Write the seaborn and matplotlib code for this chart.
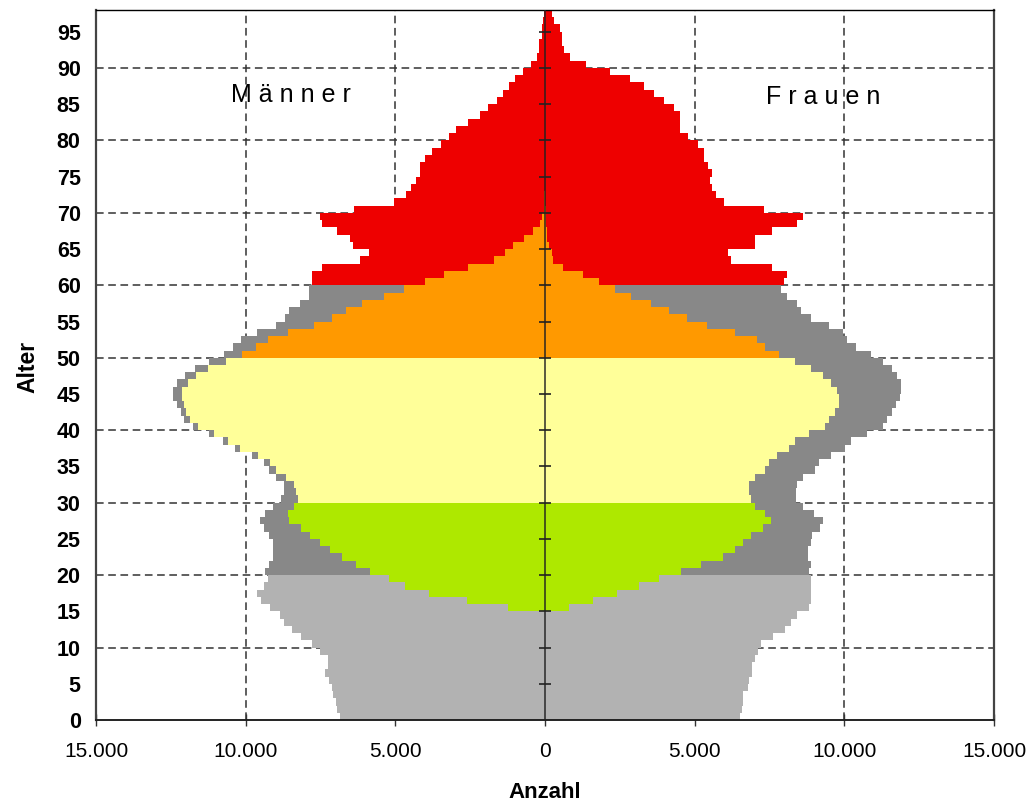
import pandas as pd
import matplotlib.pyplot as plt
import seaborn as sns
from matplotlib.ticker import FuncFormatter

# Altersjahre 0..97
alter = list(range(98))

# Bevölkerung insgesamt (Anzahl je Altersjahr)
maenner_gesamt = [6860, 6960, 6990, 7090, 7120, 7220, 7360, 7260, 7260, 7520,
                  7790, 8160, 8460, 8720, 8860, 9190, 9490, 9620, 9390, 9260,
                  9360, 9220, 9090, 9090, 9090, 9220, 9390, 9520, 9360, 9090,
                  8820, 8720, 8720, 8990, 9220, 9390, 9790, 10360, 10760, 11220,
                  11760, 12060, 12160, 12290, 12420, 12420, 12290, 12020, 11690, 11220,
                  10720, 10420, 10160, 9620, 8990, 8690, 8560, 8190, 7890, 7890,
                  7790, 7790, 7460, 6190, 5890, 6420, 6520, 6960, 7460, 7520,
                  6390, 5060, 4660, 4460, 4320, 4190, 4190, 4020, 3760, 3490,
                  3220, 2960, 2560, 2160, 1890, 1590, 1390, 1190, 990, 720,
                  460, 260, 190, 190, 110, 110, 60, 50]
frauen_gesamt = [6500, 6570, 6630, 6630, 6770, 6830, 6900, 6900, 7030, 7100,
                 7230, 7630, 8030, 8230, 8430, 8830, 8900, 8900, 8900, 8900,
                 8830, 8900, 8800, 8800, 8900, 8930, 9200, 9300, 8970, 8630,
                 8400, 8370, 8430, 8630, 9030, 9170, 9570, 10030, 10230, 10770,
                 11300, 11430, 11600, 11730, 11870, 11900, 11900, 11770, 11600, 11300,
                 10900, 10400, 10100, 9970, 9480, 8900, 8540, 8430, 8100, 7870,
                 8000, 8100, 7600, 6230, 6130, 7030, 7030, 7600, 8430, 8630,
                 7300, 5970, 5700, 5570, 5500, 5570, 5430, 5300, 5300, 5100,
                 4770, 4500, 4500, 4500, 4300, 3970, 3630, 3300, 2830, 2170,
                 1370, 830, 630, 570, 570, 500, 300, 230]

# Erwerbspersonen (Anzahl je Altersjahr)
maenner_erwerb = [0] * 15 + [
    1220, 2590, 3860, 4690, 5220,
    5860, 6320, 6790, 7190, 7520, 7860, 8160, 8560, 8590, 8390,
    8260, 8320, 8390, 8660, 8990, 9190, 9590, 10190, 10590, 11060,
    11590, 11860, 11990, 12060, 12120, 12120, 11920, 11660, 11260, 10660,
    10120, 9660, 9260, 8590, 7720, 7120, 6660, 6120, 5390, 4720,
    4020, 3360, 2560, 1720, 1320, 1060, 690, 390, 170, 110,
    40, 30, 20] + [0] * 25
frauen_erwerb = [0] * 15 + [
    810, 1610, 2410, 3140, 3810,
    4540, 5210, 5940, 6340, 6610, 6880, 7280, 7540, 7340, 7010,
    6880, 6810, 6810, 7010, 7340, 7480, 7740, 8140, 8340, 8810,
    9340, 9480, 9680, 9810, 9810, 9740, 9540, 9280, 8880, 8340,
    7810, 7340, 7080, 6340, 5410, 4740, 4140, 3540, 2880, 2340,
    1810, 1280, 610, 280, 230, 140, 80, 80, 50, 30,
    20, 0, 0] + [0] * 25

farben_gesamt = {'unter 20': '#b2b2b2', '20 bis 59': '#888888', '60 und älter': '#ee0000'}
farben_erwerb = {'15 bis 29': '#aee800', '30 bis 49': '#ffff99', '50 und älter': '#ff9900'}


def gruppe_gesamt(a):
    if a < 20:
        return 'unter 20'
    if a < 60:
        return '20 bis 59'
    return '60 und älter'


def gruppe_erwerb(a):
    if a < 30:
        return '15 bis 29'
    if a < 50:
        return '30 bis 49'
    return '50 und älter'


def tabelle(werte, vorzeichen, gruppe):
    return pd.DataFrame({
        'wert': [vorzeichen * w for w in werte],
        'pos': [a + 0.5 for a in alter],
        'gruppe': [gruppe(a) for a in alter],
    })


sns.set_style('white')
plt.rcParams['font.family'] = ['Liberation Sans', 'DejaVu Sans']
plt.rcParams['text.color'] = 'black'
plt.rcParams['xtick.color'] = 'black'
plt.rcParams['ytick.color'] = 'black'

fig = plt.figure(figsize=(10.32, 8.06), dpi=100)
ax = fig.add_axes([96 / 1032, 1 - 720 / 806, 898 / 1032, 710 / 806])

# Gitterlinien hinter den Balken
for xv in [-10000, -5000, 5000, 10000]:
    ax.axvline(xv, color='#333333', lw=1.1, ls=(0, (5, 3)), zorder=0)
for yv in range(10, 100, 10):
    ax.axhline(yv, color='#333333', lw=1.1, ls=(0, (5, 3)), zorder=0)

kw = dict(x='wert', y='pos', hue='gruppe', orient='y', native_scale=True,
          width=1.0, dodge=False, saturation=1, errorbar=None, legend=False,
          linewidth=0, edgecolor='none', ax=ax)

sns.barplot(data=tabelle(maenner_gesamt, -1, gruppe_gesamt), palette=farben_gesamt, **kw)
sns.barplot(data=tabelle(frauen_gesamt, 1, gruppe_gesamt), palette=farben_gesamt, **kw)
sns.barplot(data=tabelle(maenner_erwerb, -1, gruppe_erwerb), palette=farben_erwerb, **kw)
sns.barplot(data=tabelle(frauen_erwerb, 1, gruppe_erwerb), palette=farben_erwerb, **kw)

# Mittelachse mit Teilstrichen
ax.axvline(0, color='#222222', lw=1.4, alpha=0.75, zorder=5)
ax.plot([0] * 19, list(range(5, 100, 5)), ls='none', marker='_', ms=8,
        mew=1.2, color='#222222', zorder=6)

ax.set_xlim(-15000, 15000)
ax.set_ylim(0, 98)
ax.set_xticks(range(-15000, 15001, 5000))
ax.xaxis.set_major_formatter(FuncFormatter(lambda v, p: f"{abs(int(v)):,}".replace(',', '.')))
ax.set_yticks(range(0, 96, 5))
ax.tick_params(axis='x', direction='inout', length=8, width=1, color='#333333',
               labelsize=15, pad=12, bottom=True, labelcolor='black')
ax.tick_params(axis='y', length=0, pad=11, labelsize=15.5, labelcolor='black')
for lab in ax.get_yticklabels():
    lab.set_fontweight('bold')

ax.set_xlabel('')
ax.set_ylabel('')
ax.text(-0.0757, 0.497, 'Alter', transform=ax.transAxes, rotation=90,
        ha='center', va='center', fontsize=16.5, fontweight='bold')
ax.text(0.5, -0.1015, 'Anzahl', transform=ax.transAxes,
        ha='center', va='center', fontsize=16, fontweight='bold')

ax.text(-8500, 86.2, 'M ä n n e r', ha='center', va='center', fontsize=18)
ax.text(9300, 86.0, 'F r a u e n', ha='center', va='center', fontsize=18)

for side in ['left', 'right']:
    ax.spines[side].set_color('#444444')
    ax.spines[side].set_linewidth(1.6)
ax.spines['top'].set_color('black')
ax.spines['top'].set_linewidth(1.0)
ax.spines['bottom'].set_color('#222222')
ax.spines['bottom'].set_linewidth(1.4)

fig.savefig('out.png', dpi=100)
